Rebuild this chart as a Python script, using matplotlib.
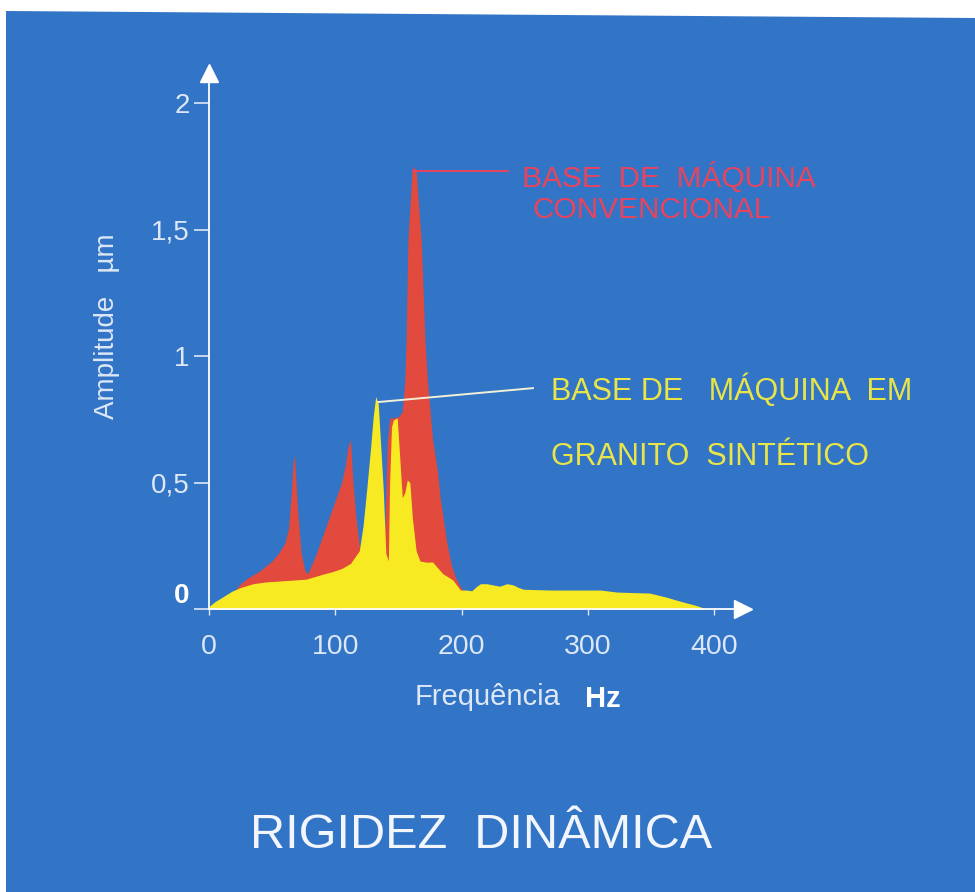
import matplotlib
matplotlib.use("Agg")
import matplotlib.pyplot as plt
from matplotlib.patches import Polygon

plt.rcParams['font.family'] = ['Liberation Sans', 'DejaVu Sans']

# Frequency response, conventional machine base (Hz, µm)
red_freq = [0, 15, 20, 25, 30, 40, 50, 55, 60, 63, 65, 67, 68, 70, 73, 76, 78,
            80, 85, 90, 95, 100, 105, 108, 110, 112, 114, 116, 119, 122, 130,
            138, 139.5, 141, 143, 146, 150, 153, 155, 156, 157.5, 159, 160.7,
            162, 164, 166, 168, 171, 173, 177, 181, 183, 188, 192, 196, 199,
            203, 210]
red_amp = [0.0, 0.05, 0.07, 0.10, 0.12, 0.15, 0.19, 0.22, 0.26, 0.32, 0.45,
           0.61, 0.58, 0.40, 0.22, 0.15, 0.14,
           0.16, 0.22, 0.29, 0.36, 0.43, 0.50, 0.57, 0.64, 0.67, 0.50, 0.38,
           0.25, 0.20, 0.20,
           0.20, 0.35, 0.65, 0.755, 0.755, 0.76, 0.78, 0.90, 1.06, 1.46, 1.59,
           1.73, 1.75, 1.73, 1.59, 1.46, 1.06, 0.90, 0.67, 0.54, 0.44, 0.27,
           0.17, 0.115, 0.087, 0.06, 0.05]

# Frequency response, synthetic granite machine base (Hz, µm)
yel_freq = [0, 5, 10, 18, 25, 35, 45, 60, 77, 85, 92, 98, 105, 112, 119, 122,
            125, 128, 130, 132, 134, 136, 138, 140, 142, 143, 144.5, 146, 149,
            151, 153, 155, 157, 159, 161, 164, 167, 172, 177, 185, 193, 199,
            204, 208, 212, 215, 220, 225, 230, 236, 241, 245, 249, 270, 290,
            310, 323, 335, 349, 362, 375, 385, 394]
yel_amp = [0.01, 0.03, 0.045, 0.07, 0.085, 0.10, 0.107, 0.112, 0.118, 0.13,
           0.14, 0.148, 0.16, 0.18, 0.23, 0.33, 0.48, 0.64, 0.76, 0.84, 0.81,
           0.64, 0.47, 0.22, 0.19, 0.50, 0.72, 0.747, 0.755, 0.60, 0.44, 0.46,
           0.51, 0.50, 0.36, 0.23, 0.19, 0.185, 0.186, 0.14, 0.115, 0.075,
           0.075, 0.072, 0.09, 0.10, 0.10, 0.095, 0.09, 0.10, 0.095, 0.085,
           0.078, 0.075, 0.075, 0.075, 0.067, 0.065, 0.063, 0.047, 0.028,
           0.015, 0.0]

x_ticks = [0, 100, 200, 300, 400]
y_ticks = [0, 0.5, 1, 1.5, 2]
y_tick_labels = ["0", "0,5", "1", "1,5", "2"]

BLUE = "#3274c6"
RED = "#e14a3c"
YELLOW = "#f7ea22"
TXT = "#dde7f6"
RED_TXT = "#e8445e"
YEL_TXT = "#e9e548"

W, H = 975, 892
fig = plt.figure(figsize=(W / 100, H / 100), dpi=100, facecolor="white")


def px(x, y):
    return (x / W, 1 - y / H)


# blue slide background
bg = Polygon([px(6, 11), px(975, 18), px(975, 892), px(6, 892)],
             closed=True, transform=fig.transFigure, facecolor=BLUE,
             edgecolor="none", zorder=-10)
fig.patches.append(bg)

ax = fig.add_axes([209 / W, (H - 609) / H, 423 * 1.263 / W, 2.12 * 253 / H])
ax.set_zorder(2)
ax.set_facecolor("none")
ax.set_xlim(0, 423)
ax.set_ylim(0, 2.12)

ax.fill_between(red_freq, red_amp, 0, color=RED, lw=0, zorder=2)
ax.fill_between(yel_freq, yel_amp, 0, color=YELLOW, lw=0, zorder=3)

for s in ("top", "right"):
    ax.spines[s].set_visible(False)
for s in ("left", "bottom"):
    ax.spines[s].set_color("white")
    ax.spines[s].set_linewidth(1.3)
    ax.spines[s].set_zorder(4)

# arrow heads on the axes
ax.plot([0], [1], marker="^", ms=13, color="white", transform=ax.transAxes,
        clip_on=False, zorder=5)
ax.plot([1], [0], marker=">", ms=13, color="white", transform=ax.transAxes,
        clip_on=False, zorder=5)

ax.set_xticks(x_ticks)
ax.set_xticklabels([str(v) for v in x_ticks])
ax.set_yticks(y_ticks)
ax.set_yticklabels(y_tick_labels)
ax.tick_params(axis="x", colors=TXT, labelsize=20.5, length=4, width=1,
               pad=14, direction="out")
ax.tick_params(axis="y", colors=TXT, labelsize=20, length=11, width=1.2,
               pad=3)
zero_lbl = ax.get_yticklabels()[0]
zero_lbl.set_fontweight("bold")
zero_lbl.set_color("white")
zero_lbl.set_verticalalignment("bottom")

# callout leaders
ax.plot([161.5, 237], [1.73, 1.73], color=RED_TXT, lw=1.4, zorder=6)
ax.plot([134, 256.5], [0.818, 0.873], color="#f2f0d8", lw=1.4, zorder=6)

fig.text(*px(522, 178), "BASE  DE  MÁQUINA", color=RED_TXT, fontsize=21.5,
         ha="left", va="center")
fig.text(*px(532, 210), "CONVENCIONAL", color=RED_TXT, fontsize=21.5,
         ha="left", va="center")
fig.text(*px(551, 390), "BASE DE   MÁQUINA  EM", color=YEL_TXT, fontsize=22,
         ha="left", va="center")
fig.text(*px(551, 457), "GRANITO  SINTÉTICO", color=YEL_TXT, fontsize=22,
         ha="left", va="center")

fig.text(*px(107, 326), "Amplitude   µm", color=TXT, fontsize=20,
         rotation=90, ha="center", va="center")
fig.text(*px(415, 697), "Frequência", color=TXT, fontsize=21,
         ha="left", va="center")
fig.text(*px(585, 699), "Hz", color="white", fontsize=21, fontweight="bold",
         ha="left", va="center")

fig.text(*px(481, 836), "RIGIDEZ  DINÂMICA", color="#f2f6fc", fontsize=35,
         ha="center", va="center")

fig.savefig("out.png", dpi=100, facecolor="white")
